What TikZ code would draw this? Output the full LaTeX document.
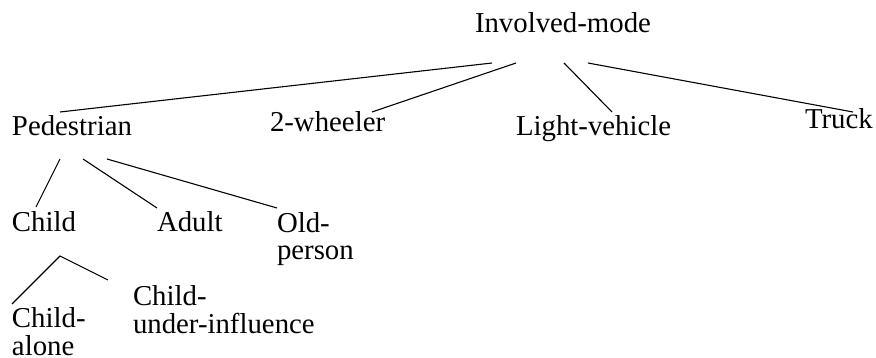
\documentclass[tikz,border=0pt]{standalone}
\usepackage{fontspec}
\setmainfont{Liberation Serif}
\begin{document}
\begin{tikzpicture}[x=1pt,y=-1pt,
  lbl/.style={inner sep=0pt,outer sep=0pt,anchor=base west,align=left,font=\fontsize{28.8}{27.5}\selectfont},
  edge/.style={line width=1.1pt,black}]
\useasboundingbox (0,0) rectangle (876,358);
\node[lbl] (im) at (475,33) {Involved-mode};
\node[lbl] (ped) at (12,136) {Pedestrian};
\node[lbl] (tw) at (270,132) {2-wheeler};
\node[lbl] (lv) at (516,136) {Light-vehicle};
\node[lbl] (tr) at (805,129) {Truck};
\node[lbl] (ch) at (12,232) {Child};
\node[lbl] (ad) at (157,232) {Adult};
\node[lbl] (op) at (277,260) {Old-\\person};
\node[lbl] (ca) at (12,355) {Child-\\alone};
\node[lbl] (cu) at (133,333) {Child-\\under-influence};
\draw[edge] ([shift={(17,30)}]im.base west) -- ([shift={(48,-24)}]ped.base west);
\draw[edge] ([shift={(41,30)}]im.base west) -- ([shift={(102,-20)}]tw.base west);
\draw[edge] ([shift={(89,30)}]im.base west) -- ([shift={(96,-24)}]lv.base west);
\draw[edge] ([shift={(113,30)}]im.base west) -- ([shift={(48,-17)}]tr.base west);
\draw[edge] ([shift={(48,23)}]ped.base west) -- ([shift={(24,-25)}]ch.base west);
\draw[edge] ([shift={(71,23)}]ped.base west) -- ([shift={(0,-24)}]ad.base west);
\draw[edge] ([shift={(95,23)}]ped.base west) -- ([shift={(0,-52)}]op.base west);
\draw[edge] ([shift={(0,-51)}]ca.base west) -- ([shift={(48,24)}]ch.base west) -- ([shift={(-25,-53)}]cu.base west);
\end{tikzpicture}
\end{document}
